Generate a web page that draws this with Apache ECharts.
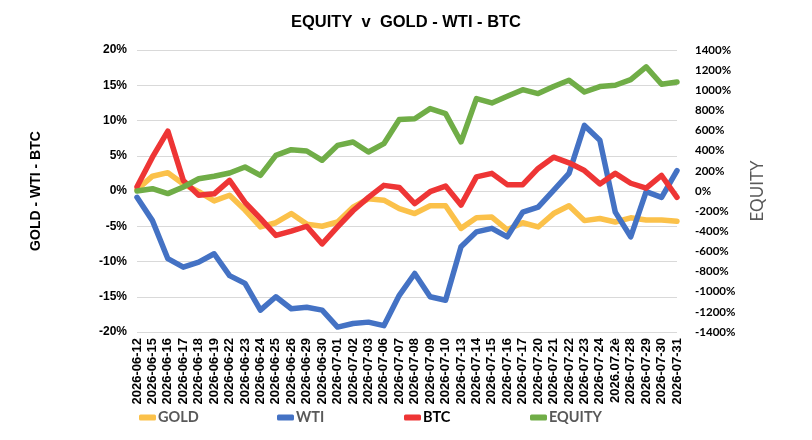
<!DOCTYPE html>
<html>
<head>
<meta charset="utf-8">
<script src="https://cdn.jsdelivr.net/npm/echarts@6/dist/echarts.min.js"></script>
<style>
  html, body { margin: 0; padding: 0; background: #fff; }
  #chart-container { width: 812px; height: 440px; }
</style>
</head>
<body>
<div id="chart-container"></div>
<script>
// data
var dates = [
    '2026-06-12', '2026-06-15', '2026-06-16', '2026-06-17', '2026-06-18', '2026-06-19',
    '2026-06-22', '2026-06-23', '2026-06-24', '2026-06-25', '2026-06-26', '2026-06-29',
    '2026-06-30', '2026-07-01', '2026-07-02', '2026-07-03', '2026-07-06', '2026-07-07',
    '2026-07-08', '2026-07-09', '2026-07-10', '2026-07-13', '2026-07-14', '2026-07-15',
    '2026-07-16', '2026-07-17', '2026-07-20', '2026-07-21', '2026-07-22', '2026-07-23',
    '2026-07-24', '2026.07.2è', '2026-07-28', '2026-07-29', '2026-07-30', '2026-07-31'
];

// GOLD, WTI, BTC in % (left axis)
var gold = [0.2, 2.1, 2.6, 1.0, -0.1, -1.4, -0.6, -2.7, -5.1, -4.5, -3.2, -4.7,
    -5.0, -4.4, -2.3, -1.1, -1.3, -2.5, -3.2, -2.1, -2.1, -5.3, -3.8, -3.7,
    -5.5, -4.5, -5.1, -3.2, -2.1, -4.2, -3.9, -4.4, -3.8, -4.1, -4.1, -4.3];

var wti = [-0.9, -4.2, -9.6, -10.8, -10.1, -8.9, -12.0, -13.1, -16.9, -15.0, -16.7, -16.5,
    -16.9, -19.3, -18.8, -18.6, -19.1, -14.8, -11.7, -15.0, -15.5, -7.9, -5.8, -5.3,
    -6.5, -3.0, -2.3, 0.1, 2.5, 9.3, 7.2, -3.0, -6.5, -0.1, -0.9, 2.9];

var btc = [0.6, 4.8, 8.5, 1.5, -0.6, -0.4, 1.5, -1.6, -3.9, -6.3, -5.7, -5.0,
    -7.5, -5.1, -2.8, -0.9, 0.8, 0.5, -1.8, -0.1, 0.7, -2.0, 2.0, 2.5,
    0.9, 0.9, 3.2, 4.8, 4.0, 2.9, 1.0, 2.5, 1.1, 0.4, 2.2, -0.9];

// EQUITY in % (right axis)
var equity = [0, 23, -26, 40, 122, 146, 179, 238, 155, 354, 410, 397,
    305, 453, 487, 387, 470, 709, 718, 818, 768, 487, 917, 874,
    940, 1006, 967, 1037, 1099, 983, 1037, 1050, 1105, 1232, 1060, 1083];

var seriesNames = ['GOLD', 'WTI', 'BTC', 'EQUITY'];
var seriesColors = ['#FBC14A', '#4472C4', '#EE3535', '#70AD47'];
var legendLeft = [139, 277, 404, 530];

var dom = document.getElementById('chart-container');
var myChart = echarts.init(dom, null, {
    renderer: 'canvas',
    useDirtyRect: false
});

// one legend per item so each sits where the original puts it
var legends = seriesNames.map(function (name, i) {
    return {
        left: legendLeft[i],
        top: 410,
        padding: 0,
        itemWidth: 17,
        itemHeight: 6,
        icon: 'roundRect',
        textStyle: {
            fontFamily: 'Lato',
            fontSize: 14.5,
            fontWeight: 'bold',
            color: name === 'BTC' ? '#000000' : '#595959',
            padding: [0, 0, 0, -3]
        },
        data: [name]
    };
});

function lineSeries(name, data, axisIndex, color) {
    return {
        name: name,
        type: 'line',
        data: data,
        yAxisIndex: axisIndex,
        symbol: 'none',
        itemStyle: { color: color },
        lineStyle: { width: 5.5, cap: 'round', join: 'round' }
    };
}

var option;

option = {
    animation: false,
    backgroundColor: '#ffffff',
    title: {
        text: 'EQUITY  v  GOLD - WTI - BTC',
        left: 'center',
        top: 9,
        textStyle: {
            fontFamily: 'Liberation Sans',
            fontSize: 16.5,
            fontWeight: 'bold',
            color: '#000000'
        }
    },
    legend: legends,
    grid: {
        left: 137,
        right: 135,
        top: 50,
        bottom: 108
    },
    xAxis: {
        type: 'category',
        data: dates,
        boundaryGap: false,
        axisLine: { show: true, lineStyle: { color: '#d9d9d9' } },
        axisTick: { show: false },
        axisLabel: {
            interval: 0,
            rotate: 90,
            margin: 6,
            fontFamily: 'Liberation Sans',
            fontSize: 13,
            fontWeight: 'bold',
            color: '#000000'
        }
    },
    yAxis: [
        {
            type: 'value',
            min: -20,
            max: 20,
            interval: 5,
            name: 'GOLD - WTI - BTC',
            nameLocation: 'middle',
            nameGap: 94,
            nameTextStyle: {
                fontFamily: 'Liberation Sans',
                fontSize: 14,
                fontWeight: 'bold',
                color: '#000000'
            },
            axisLine: { show: false },
            axisTick: { show: false },
            axisLabel: {
                formatter: function (v) { return v + '%'; },
                margin: 10,
                fontFamily: 'Liberation Sans',
                fontSize: 12,
                fontWeight: 'bold',
                color: '#000000'
            },
            splitLine: { lineStyle: { color: '#d9d9d9', width: 1 } }
        },
        {
            type: 'value',
            min: -1400,
            max: 1400,
            interval: 200,
            name: 'EQUITY',
            nameLocation: 'middle',
            nameGap: 72,
            nameTextStyle: {
                fontFamily: 'Lato',
                fontSize: 17,
                color: '#595959'
            },
            axisLine: { show: false },
            axisTick: { show: false },
            axisLabel: {
                formatter: function (v) { return v + '%'; },
                margin: 18,
                fontFamily: 'Lato',
                fontSize: 11.5,
                fontWeight: 'bold',
                color: '#000000'
            },
            splitLine: { show: false }
        }
    ],
    series: [
        lineSeries('GOLD', gold, 0, seriesColors[0]),
        lineSeries('WTI', wti, 0, seriesColors[1]),
        lineSeries('BTC', btc, 0, seriesColors[2]),
        lineSeries('EQUITY', equity, 1, seriesColors[3])
    ]
};

if (option && typeof option === 'object') {
    myChart.setOption(option);
}
</script>
</body>
</html>
